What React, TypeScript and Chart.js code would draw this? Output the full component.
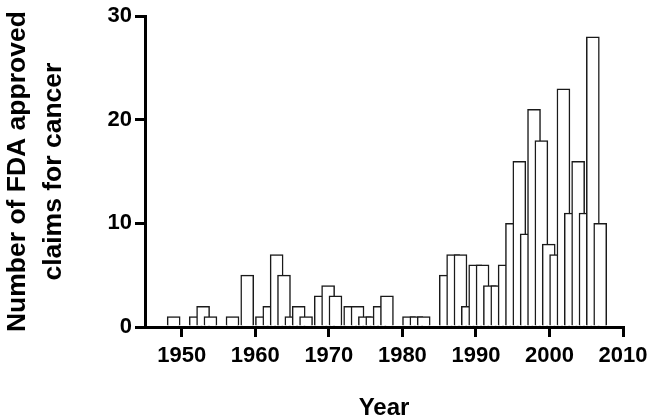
import React, { useEffect, useRef } from "react";
import { Chart, registerables } from "chart.js";

Chart.register(...registerables);

const years = [
  1945, 1946, 1947, 1948, 1949, 1950, 1951, 1952, 1953, 1954,
  1955, 1956, 1957, 1958, 1959, 1960, 1961, 1962, 1963, 1964,
  1965, 1966, 1967, 1968, 1969, 1970, 1971, 1972, 1973, 1974,
  1975, 1976, 1977, 1978, 1979, 1980, 1981, 1982, 1983, 1984,
  1985, 1986, 1987, 1988, 1989, 1990, 1991, 1992, 1993, 1994,
  1995, 1996, 1997, 1998, 1999, 2000, 2001, 2002, 2003, 2004,
  2005, 2006,
];

const claims = [
  0, 0, 0, 1, 0, 0, 1, 2, 1, 0,
  0, 1, 0, 5, 0, 1, 2, 7, 5, 1,
  2, 1, 0, 3, 4, 3, 0, 2, 2, 1,
  1, 2, 3, 0, 0, 1, 1, 1, 0, 0,
  5, 7, 7, 2, 6, 6, 4, 4, 6, 10,
  16, 9, 21, 18, 8, 7, 23, 11, 16, 11,
  28, 10,
];

const xTicks = [1950, 1960, 1970, 1980, 1990, 2000, 2010];
const yTicks = [0, 10, 20, 30];

const FONT = "'Liberation Sans', Arial, Helvetica, sans-serif";

export default function App() {
  const ref = useRef<HTMLCanvasElement | null>(null);

  useEffect(() => {
    if (!ref.current) return;
    const barSpanYears = 1.8;
    const points = years
      .map((yr, i) => ({ x: yr + barSpanYears / 2, y: claims[i] }))
      .filter((p) => p.y > 0);

    const chart = new Chart(ref.current, {
      type: "bar",
      data: {
        datasets: [
          {
            data: points,
            backgroundColor: "#ffffff",
            borderColor: "#1a1a1a",
            borderWidth: 1.5,
            borderSkipped: "start",
            barThickness: 13,
          },
        ],
      },
      options: {
        responsive: false,
        animation: false,
        devicePixelRatio: 1,
        layout: { padding: { top: 13, right: 32, left: 0, bottom: 0 } },
        plugins: {
          legend: { display: false },
          tooltip: { enabled: false },
        },
        events: [],
        scales: {
          x: {
            type: "linear",
            min: 1945,
            max: 2010,
            offset: false,
            afterBuildTicks: (scale: any) => {
              scale.ticks = xTicks.map((v) => ({ value: v }));
            },
            afterFit: (scale: any) => {
              scale.height = 93;
            },
            grid: {
              display: true,
              offset: false,
              drawOnChartArea: false,
              drawTicks: true,
              tickLength: 10,
              lineWidth: 3,
              color: "#000",
            },
            border: { display: true, width: 3, color: "#000" },
            ticks: {
              color: "#000",
              padding: 6,
              maxRotation: 0,
              autoSkip: false,
              font: { family: FONT, size: 22, weight: "bold" },
              callback: (v: any) => String(v),
            },
            title: {
              display: true,
              text: "Year",
              color: "#000",
              padding: 0,
              font: { family: FONT, size: 24, weight: "bold", lineHeight: 1 },
            },
          },
          y: {
            type: "linear",
            min: 0,
            max: 30,
            afterBuildTicks: (scale: any) => {
              scale.ticks = yTicks.map((v) => ({ value: v }));
            },
            afterFit: (scale: any) => {
              scale.width = 145;
            },
            grid: {
              display: true,
              drawOnChartArea: false,
              drawTicks: true,
              tickLength: 10,
              lineWidth: 3,
              color: "#000",
            },
            border: { display: true, width: 3, color: "#000" },
            ticks: {
              color: "#000",
              padding: 3,
              font: { family: FONT, size: 22, weight: "bold" },
              callback: (v: any) => String(v),
            },
            title: {
              display: true,
              text: ["Number of FDA approved", "claims for cancer"],
              color: "#000",
              padding: 0,
              font: { family: FONT, size: 26.5, weight: "bold", lineHeight: 1.36 },
            },
          },
        },
      },
    });
    return () => chart.destroy();
  }, []);

  return (
    <div style={{ position: "fixed", left: 0, top: 0, width: 655, height: 420, background: "#fff" }}>
      <canvas ref={ref} width={655} height={420} />
    </div>
  );
}
